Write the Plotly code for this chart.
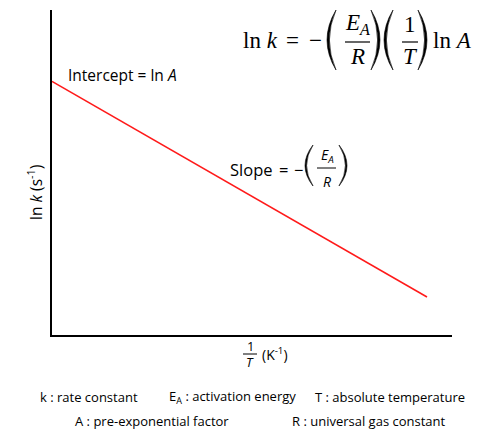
import plotly.graph_objects as go

# ---- data (abstract units: x = 1/T, y = ln k) ----
x_vals = [0.0, 9.375]
y_vals = [7.8, 1.17]
x_range = [0, 10]
y_range = [0, 10]

W, H = 500, 436
L, R, T, B = 52, 48, 10, 101
PW, PH = W - L - R, H - T - B


def px(x):
    return (x - L) / PW


def py(y):
    return (H - B - y) / PH


SANS = "Open Sans"
SERIF = "Liberation Serif"

fig = go.Figure()
fig.add_trace(go.Scatter(x=x_vals, y=y_vals, mode="lines",
                         line=dict(color="#ff1a1a", width=1.5),
                         hoverinfo="skip", showlegend=False))

ann = []


def text(x, y, s, size, font=SANS, xanchor="center", yanchor="middle", angle=0):
    ann.append(dict(x=px(x), y=py(y), xref="paper", yref="paper", text=s,
                    showarrow=False, xanchor=xanchor, yanchor=yanchor,
                    textangle=angle,
                    font=dict(family=font, size=size, color="black")))


shapes = []


def hbar(x0, x1, y, w=1.2):
    shapes.append(dict(type="line", xref="paper", yref="paper",
                       x0=px(x0), x1=px(x1), y0=py(y), y1=py(y),
                       line=dict(color="black", width=w)))


def paren(xl, xr, y0, y1, left=True, thick=2.4):
    ym = (y0 + y1) / 2
    if left:
        tip, bulge = xr, xl
        c_out = 2 * bulge - tip
        c_in = 2 * (bulge + thick) - tip
    else:
        tip, bulge = xl, xr
        c_out = 2 * bulge - tip
        c_in = 2 * (bulge - thick) - tip
    path = (f"M {px(tip)},{py(y0)} Q {px(c_out)},{py(ym)} {px(tip)},{py(y1)} "
            f"Q {px(c_in)},{py(ym)} {px(tip)},{py(y0)} Z")
    shapes.append(dict(type="path", xref="paper", yref="paper", path=path,
                       fillcolor="black", line=dict(color="black", width=0.6)))


# ---- equation top right ----
MS = 23
text(241, 40, "ln <i>k</i>", MS, SERIF, xanchor="left")
text(292, 40, "=", MS, SERIF)
text(315, 40, "−", MS, SERIF)
paren(327, 336, 10, 70, left=True)
text(357, 24, "<i>E</i><sub><i>A</i></sub>", MS, SERIF)
hbar(345, 370, 42)
text(357, 57, "<i>R</i>", MS, SERIF)
paren(371, 380, 10, 70, left=False)
paren(384, 393, 10, 70, left=True)
text(410, 24, "1", MS, SERIF)
hbar(402, 418, 42)
text(410, 57, "<i>T</i>", MS, SERIF)
paren(418, 427, 10, 70, left=False)
text(431, 40, "ln <i>A</i>", MS, SERIF, xanchor="left")

# ---- intercept label ----
text(66, 75, "Intercept = ln <i>A</i>", 15.5, xanchor="left")

# ---- slope label ----
text(228, 169, "Slope", 16.5, xanchor="left")
text(283, 169, "=", 16.5)
text(298, 169, "−", 16.5)
paren(305, 313, 145, 186, left=True, thick=1.6)
text(327, 155, "<i>E</i><sub><i>A</i></sub>", 14)
hbar(317, 336, 168, 1.0)
text(327, 181, "<i>R</i>", 14)
paren(339, 347, 145, 186, left=False, thick=1.6)

# ---- axis titles ----
text(35, 193, "ln <i>k</i> (s<sup>-1</sup>)", 15.5, angle=-90)
text(250, 346, "1", 13)
hbar(243, 257, 354, 1.0)
text(250, 362, "<i>T</i>", 13)
text(260, 354, "(K<sup>-1</sup>)", 14, xanchor="left")

# ---- footer ----
FS = 13
text(38, 397, "k : rate constant", FS, xanchor="left")
text(167, 397, "E<sub>A</sub> : activation energy", FS, xanchor="left")
text(313, 397, "T : absolute temperature", FS, xanchor="left")
text(73, 421, "A : pre-exponential factor", FS, xanchor="left")
text(290, 421, "R : universal gas constant", FS, xanchor="left")

fig.update_layout(
    width=W, height=H,
    margin=dict(l=L, r=R, t=T, b=B),
    paper_bgcolor="white", plot_bgcolor="white",
    annotations=ann, shapes=shapes,
    xaxis=dict(range=x_range, showline=True, linecolor="black", linewidth=2,
               showgrid=False, zeroline=False, showticklabels=False, ticks=""),
    yaxis=dict(range=y_range, showline=True, linecolor="black", linewidth=2,
               showgrid=False, zeroline=False, showticklabels=False, ticks=""),
    showlegend=False,
)

fig.write_html("out.html", config={"displayModeBar": False},
               post_script="document.body.style.margin='0';document.body.style.overflow='hidden';")
